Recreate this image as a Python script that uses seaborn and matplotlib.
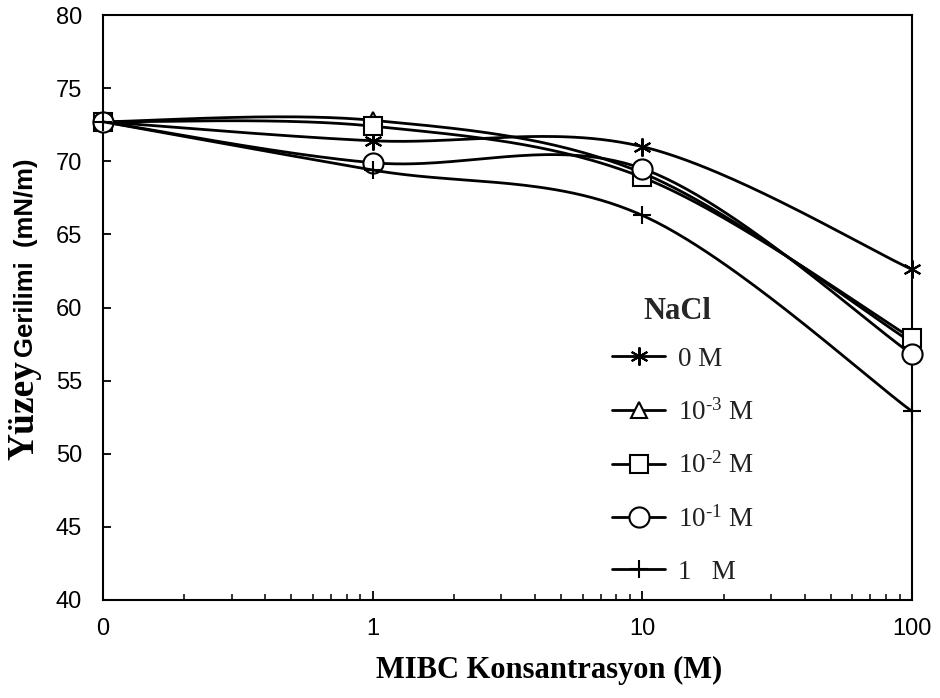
import numpy as np
import pandas as pd
import matplotlib
matplotlib.use("Agg")
import matplotlib.pyplot as plt
import seaborn as sns
from matplotlib.lines import Line2D
from matplotlib.ticker import FixedLocator, FixedFormatter, LogLocator, NullFormatter, MultipleLocator

# MIBC concentration (first point plotted at 0.1 on the log axis, labelled "0")
mibc = [0.1, 1, 10, 100]
mibc_tick_labels = ["0", "1", "10", "100"]

# surface tension (mN/m) for each NaCl concentration
st_nacl_0 = [72.7, 71.4, 71.0, 62.6]
st_nacl_1e3 = [72.7, 72.8, 69.2, 57.6]
st_nacl_1e2 = [72.7, 72.4, 68.9, 57.9]
st_nacl_1e1 = [72.7, 69.9, 69.5, 56.8]
st_nacl_1 = [72.7, 69.4, 66.3, 52.9]

nacl_labels = ["0 M", r"$\mathregular{10^{\text{-3}}}$ M", r"$\mathregular{10^{\text{-2}}}$ M",
               r"$\mathregular{10^{\text{-1}}}$ M", "1   M"]

sns.set_theme(style="white")
plt.rcParams["font.family"] = ["Liberation Sans", "DejaVu Sans"]
plt.rcParams["mathtext.fontset"] = "custom"
plt.rcParams["mathtext.rm"] = "Liberation Serif"

series = [
    (nacl_labels[0], st_nacl_0, dict(marker=(6, 2, 0), ms=13, mew=1.5, mfc="none")),
    (nacl_labels[1], st_nacl_1e3, dict(marker="^", ms=11, mew=1.5, mfc="white")),
    (nacl_labels[2], st_nacl_1e2, dict(marker="s", ms=13.5, mew=1.5, mfc="white")),
    (nacl_labels[3], st_nacl_1e1, dict(marker="o", ms=14.5, mew=1.5, mfc="white")),
    (nacl_labels[4], st_nacl_1, dict(marker="+", ms=13, mew=1.5, mfc="none")),
]


def smooth_curve(x, y, n=60):
    """Catmull-Rom style Bezier smoothing in log-x space (spreadsheet 'smoothed line')."""
    lx = np.log10(np.asarray(x, float))
    yy = np.asarray(y, float)
    pts = np.column_stack([lx, yy])
    ext = np.vstack([pts[0], pts, pts[-1]])
    out = []
    t = np.linspace(0, 1, n)[:, None]
    for i in range(len(pts) - 1):
        p0, p1, p2, p3 = ext[i], ext[i + 1], ext[i + 2], ext[i + 3]
        c1 = p1 + (p2 - p0) / 6.0
        c2 = p2 - (p3 - p1) / 6.0
        seg = ((1 - t) ** 3) * p1 + 3 * ((1 - t) ** 2) * t * c1 + 3 * (1 - t) * t ** 2 * c2 + t ** 3 * p2
        out.append(seg if i == 0 else seg[1:])
    out = np.vstack(out)
    return 10 ** out[:, 0], out[:, 1]


W, H = 940, 698
fig = plt.figure(figsize=(W / 100, H / 100), dpi=100)
ax = fig.add_axes([103 / W, 98 / H, 809 / W, 585 / H])

handles = []
for k, (label, vals, mstyle) in enumerate(series):
    cx, cy = smooth_curve(mibc, vals)
    curve = pd.DataFrame({"MIBC": cx, "ST": cy})
    sns.lineplot(data=curve, x="MIBC", y="ST", sort=False, estimator=None,
                 color="black", lw=2.0, ax=ax, zorder=3 + 2 * k)
    ax.plot(mibc, vals, linestyle="none", color="black", mec="black",
            zorder=4 + 2 * k, clip_on=False, **mstyle)
    handles.append(Line2D([0], [0], color="black", lw=2.0, **mstyle))

ax.set_xscale("log")
ax.set_xlim(0.1, 100)
ax.set_ylim(40, 80)
ax.xaxis.set_major_locator(FixedLocator(mibc))
ax.xaxis.set_major_formatter(FixedFormatter(mibc_tick_labels))
ax.xaxis.set_minor_locator(LogLocator(base=10, subs=np.arange(2, 10)))
ax.xaxis.set_minor_formatter(NullFormatter())
ax.yaxis.set_major_locator(MultipleLocator(5))

for s in ax.spines.values():
    s.set_visible(True)
    s.set_color("black")
    s.set_linewidth(1.5)

ax.tick_params(axis="x", which="major", direction="in", length=6.5, width=1.3,
               bottom=True, top=False, labelsize=17, pad=13, colors="black")
ax.tick_params(axis="x", which="minor", direction="in", length=4.3, width=1.3,
               bottom=True, top=False)
ax.tick_params(axis="y", which="major", direction="in", length=5.5, width=1.3,
               left=True, right=False, labelsize=17, pad=15, colors="black")
ax.grid(False)

ax.set_xlabel("MIBC Konsantrasyon (M)", family=["Liberation Serif"], fontweight="bold",
              fontsize=22, color="black")
ax.xaxis.label.set_va("center")
ax.xaxis.set_label_coords((549 - 103) / 809, (600 - 670) / 585)
ax.set_ylabel("")

leg = ax.legend(handles, nacl_labels, loc="upper left",
                bbox_to_anchor=(612 / W, 1 - 297 / H), bbox_transform=fig.transFigure,
                frameon=False, borderpad=0, borderaxespad=0,
                handlelength=1.96, handletextpad=0.48, labelspacing=1.0,
                prop={"family": ["Liberation Serif"], "size": 19.5},
                title="NaCl", title_fontproperties={"family": ["Liberation Serif"],
                                                   "weight": "bold", "size": 22})
leg._legend_box.sep = 15
leg._legend_box.align = "left"
leg.get_title().set_position((31, 0))
for t in leg.get_texts():
    t.set_color("#222222")

# vertical axis title: "Yüzey" in bold serif followed by "Gerilimi  (mN/m)" in bold sans
fig.canvas.draw()
yx = 24 / W
t1 = fig.text(yx, 1 - 460 / H, "Yüzey", rotation=90, ha="center", va="bottom",
              family=["Liberation Serif"], fontweight="bold", fontsize=27, color="black")
fig.canvas.draw()
bb = t1.get_window_extent()
t2 = fig.text(yx + 2 / W, (bb.y1 + 3) / H, "Gerilimi  (mN/m)", rotation=90, ha="center", va="bottom",
              family=["Liberation Sans"], fontweight="bold", fontsize=18.5, color="black")

fig.savefig("out.png", dpi=100)
